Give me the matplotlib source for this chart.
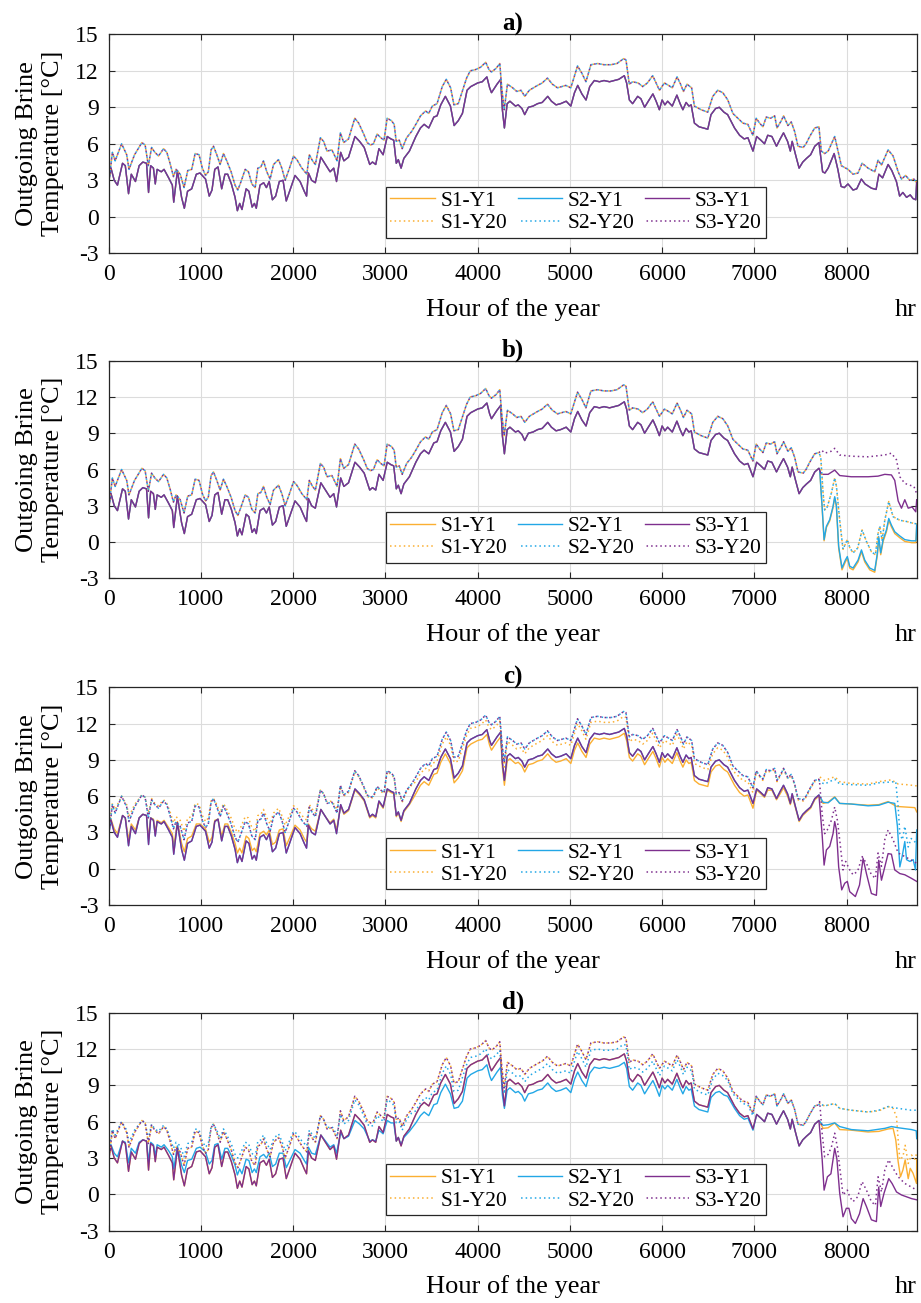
import numpy as np
import matplotlib
matplotlib.use("Agg")
import matplotlib.pyplot as plt

plt.rcParams['font.family'] = ['Liberation Serif', 'DejaVu Serif']
plt.rcParams['axes.unicode_minus'] = False

# ---------------- data ----------------
# Year-1 body, hours split into seasonal segments
Y1_H_W = [0,25,60,95,150,180,215,245,290,330, 370,410,432,455,485,505,525,570,600,650,
          690,705,745,790,820,855,900,950,990,1050, 1090,1120,1150,1185,1225,1260,1290,1330,1370,1395,
          1420,1445,1490,1520,1555,1580,1600,1640,1680,1710, 1740,1775,1810,1850,1890,1925,2020,2075,2120,2145,
          2165,2200,2240,2300,2350,2400,2440,2470]
Y1_W = [3.0,4.0,3.0,2.6,4.4,4.2,1.9,3.5,2.9,4.2, 4.5,4.4,2.0,4.2,4.0,2.7,3.9,3.7,3.9,3.2,
        2.6,1.2,3.8,1.6,0.7,2.1,2.3,3.5,3.6,3.1, 1.7,2.2,3.9,4.1,2.3,3.5,3.5,2.7,1.6,0.5,
        1.1,0.6,2.3,2.1,0.8,1.1,0.7,2.6,2.8,2.4, 2.9,1.4,1.7,2.9,3.0,1.3,3.4,2.9,2.1,1.7,
        3.6,3.0,2.8,4.9,4.3,3.7,4.0,2.9]
Y1_W_C = [3.3,4.1,3.3,2.9,4.4,4.2,2.4,3.7,3.2,4.2, 4.5,4.4,2.5,4.2,4.1,3.0,4.0,3.8,4.0,3.4,
          2.9,1.8,3.9,2.1,1.4,2.5,2.7,3.7,3.7,3.3, 2.2,2.6,4.0,4.1,2.7,3.7,3.7,3.0,2.1,1.3,
          1.7,1.3,2.7,2.5,1.5,1.7,1.4,2.9,3.1,2.8, 3.2,2.0,2.2,3.2,3.3,1.9,3.6,3.2,2.5,2.2,
          3.7,3.3,3.1,4.9,4.3,3.8,4.1,3.2]
Y1_W_D = [3.4,4.1,3.4,3.1,4.4,4.3,2.6,3.8,3.4,4.3, 4.5,4.4,2.7,4.3,4.1,3.2,4.1,3.9,4.1,3.6,
          3.1,2.1,4.0,2.4,1.8,2.8,2.9,3.8,3.9,3.5, 2.5,2.8,4.1,4.2,2.9,3.8,3.8,3.2,2.4,1.6,
          2.1,1.7,2.9,2.8,1.8,2.1,1.8,3.1,3.3,3.0, 3.4,2.3,2.5,3.4,3.4,2.2,3.7,3.4,2.8,2.5,
          3.9,3.4,3.3,4.9,4.4,3.9,4.1,3.4]

Y1_H_M = [2515,2550,2600,2670,2720,2770,2830,2860,2895,2930,2975,3020,3060,3090,3118,3140,3170,3200,3260]
Y1_M = [5.3,4.6,4.9,6.6,6.2,5.7,4.3,4.5,4.3,5.6,5.1,6.6,6.4,6.3,4.4,4.7,4.0,4.8,5.4]
Y1_M_C = [5.2,4.5,4.8,6.5,6.1,5.6,4.2,4.4,4.2,5.5,5.0,6.5,6.3,6.2,4.3,4.6,3.9,4.7,5.3]
Y1_M_D = [5.1,4.6,4.8,6.1,5.8,5.4,4.4,4.5,4.4,5.3,5.0,6.1,5.9,5.9,4.4,4.7,4.1,4.7,5.2]

Y1_H_S = [3330,3380,3420,3470,3525,3560,3600,3650, 3705,3745,3790,3835,3885,3925,4000,4050,4100,4130,4150,
          4210,4250,4268,4290,4320, 4350,4410,4440,4480,4510,4550,4600,4650,4700, 4760,4800,4850,4900,4960,5010,
          5050,5085,5130,5175,5215,5265,5320,5370, 5430,5480,5530,5590,5615,5645,5680,
          5735,5770,5810,5850,5900,5935,5970,6000,6030, 6060,6110,6160,6195,6225,6260,6290,6315,
          6350,6400,6495,6530,6580,6620,6670,6710, 6785,6840,6890,6930,6985]
Y1_S = [6.6,7.3,7.6,7.3,8.2,8.3,9.2,9.9, 9.1,7.5,7.9,8.5,10.4,10.7,11.0,11.1,11.5,10.6,10.2,
        10.9,11.3,8.8,7.3,9.3, 9.5,9.1,9.2,8.9,8.4,9.0,9.1,9.3,9.4, 9.9,9.5,9.2,9.3,9.5,9.1,
        10.2,10.8,10.1,9.6,10.7,11.2,11.1,11.2, 11.1,11.2,11.3,11.6,11.0,9.6,9.3,
        9.9,9.7,9.0,9.5,10.1,9.5,8.8,9.6,9.2, 9.5,9.1,10.0,9.3,8.8,9.4,9.1,9.2,
        7.7,7.4,7.2,8.4,8.9,9.0,8.6,8.4, 7.3,6.7,6.4,6.5,5.4]
Y1_S_C = [6.2,6.9,7.2,6.9,7.8,7.9,8.8,9.5, 8.7,7.1,7.5,8.1,10.0,10.3,10.6,10.7,11.1,10.2,9.8,
          10.5,10.9,8.4,6.9,8.9, 9.1,8.7,8.8,8.5,8.0,8.6,8.7,8.9,9.0, 9.5,9.1,8.8,8.9,9.1,8.7,
          9.8,10.4,9.7,9.2,10.3,10.8,10.7,10.8, 10.7,10.8,10.9,11.2,10.6,9.2,8.9,
          9.5,9.3,8.6,9.1,9.7,9.1,8.4,9.2,8.8, 9.1,8.7,9.6,8.9,8.4,9.0,8.7,8.8,
          7.3,7.0,6.8,8.0,8.5,8.6,8.2,8.0, 6.9,6.3,6.0,6.1,5.0]
Y1_S_D = [5.9,6.5,6.8,6.5,7.4,7.5,8.4,9.1, 8.3,7.1,7.2,7.7,9.6,9.9,10.2,10.3,10.7,9.8,9.4,
          10.1,10.5,8.2,7.1,8.6, 8.8,8.4,8.5,8.2,7.7,8.3,8.4,8.6,8.7, 9.2,8.8,8.5,8.6,8.8,8.4,
          9.5,10.1,9.4,8.9,10.0,10.5,10.4,10.5, 10.4,10.5,10.6,10.9,10.4,8.9,8.6,
          9.2,9.0,8.3,8.8,9.4,8.8,8.1,9.0,8.7, 9.0,8.6,9.5,8.8,8.3,8.9,8.6,8.7,
          7.3,7.0,6.8,8.0,8.4,8.5,8.2,8.1, 7.1,6.5,6.2,6.3,5.3]

Y1_H_L = [7025,7070,7110,7145,7190,7240,7280,7316,7360,7390,7410,7450,7485,7525,7565,7610,7655,7700]
Y1_L = [6.6,6.3,6.0,6.7,6.6,5.8,6.4,6.9,6.2,5.4,6.2,5.0,4.0,4.5,4.8,5.1,5.8,6.1]
Y1_L_C = [6.5,6.2,5.9,6.5,6.5,5.7,6.2,6.7,6.0,5.3,6.0,4.9,3.9,4.4,4.7,5.0,5.7,6.0]

# Year-20 body
Y20_H_W = [0,40,70,140,195,220,280,320,360, 395,430,465,500,540,595,630,
           665,702,730,775,817,857,900,937,980,1015, 1050,1080,1110,1136,1172,1208,1244,1280,1327,
           1370,1400,1430,1480,1515,1552,1588,1617,1650,1678, 1714,1750,1787,1841,1877,1913,1960,2004,2040,
           2094,2148,2175,2210,2241,2295,2330,2367,2420,2476]
Y20_W = [2.7,5.3,4.6,6.0,5.1,3.9,5.1,5.6,6.1, 5.9,4.2,5.7,5.3,5.0,5.6,5.3,
         4.4,3.3,3.9,3.5,2.4,3.8,3.9,5.2,5.1,4.0, 3.4,3.7,5.5,5.8,5.1,4.3,5.2,4.6,3.7,
         2.6,2.2,2.8,3.9,3.7,2.7,2.4,4.0,4.1,4.6, 3.7,3.1,4.3,4.7,4.0,3.0,4.0,5.0,4.7,
         4.0,3.5,5.1,4.6,4.3,6.5,6.2,5.4,5.5,4.6]
Y20_W_DAMP = [3.4,5.4,4.9,6.0,5.3,4.3,5.3,5.7,6.1, 5.9,4.6,5.8,5.4,5.2,5.7,5.4,
              4.7,3.8,4.3,4.0,3.1,4.2,4.3,5.4,5.3,4.4, 3.9,4.2,5.6,5.8,5.3,4.6,5.4,4.9,4.2,
              3.3,3.0,3.4,4.3,4.2,3.4,3.1,4.4,4.5,4.9, 4.2,3.7,4.6,5.0,4.4,3.6,4.4,5.2,5.0,
              4.4,4.0,5.3,4.9,4.6,6.5,6.2,5.5,5.6,4.9]

Y20_H_M = [2512,2548,2600,2668,2710,2765,2802,2838,2870,2910,2950,2985,3019,3066,3095,3117,3150,3182,3230,3283]
Y20_M = [6.9,6.1,6.4,8.1,7.7,6.8,6.1,5.9,6.0,6.8,6.5,6.3,8.1,7.9,7.6,6.2,6.3,5.6,6.5,7.0]
Y20_M_C = [6.8,6.0,6.3,8.0,7.6,6.7,6.0,5.8,5.9,6.7,6.4,6.2,8.0,7.8,7.5,6.1,6.2,5.5,6.4,6.9]
Y20_M_D = [6.6,5.8,6.1,7.8,7.4,6.5,5.8,5.6,5.7,6.5,6.2,6.0,7.8,7.6,7.3,5.9,6.0,5.3,6.2,6.7]

Y20_H_S = [3330,3381,3435,3470,3508,3560,3616,3660, 3707,3743,3790,3833,3880,3920,3978,4033,4087,4123,4150,
           4200,4240,4262,4288,4323, 4380,4424,4470,4511,4560,4649,4700,4757,
           4810,4866,4956,5010,5047,5083,5130,5174, 5228,5300,5370,5445,5510,5583,5608,5644,5680,
           5740,5789,5840,5898,5935,5971,6025, 6070,6110,6162,6200,6231,6270,6320,
           6350,6423,6495,6549,6603,6658,6712, 6767,6821,6875,6929,6984]
Y20_S = [7.6,8.3,8.7,8.5,9.1,9.3,10.7,11.3, 10.6,9.2,9.3,10.3,11.4,12.0,12.1,12.3,12.7,12.1,11.9,
         12.2,12.6,10.5,8.8,10.9, 10.6,10.3,10.4,9.9,10.4,10.8,11.0,11.4,
         10.9,10.6,10.8,10.6,11.5,12.4,11.8,11.1, 12.5,12.6,12.5,12.5,12.6,13.0,12.9,10.9,11.1,
         11.0,10.7,11.0,11.6,11.0,10.4,11.0, 10.8,10.6,11.5,10.9,10.3,10.9,10.6,
         9.1,8.8,8.6,9.9,10.4,10.2,9.6, 8.5,8.1,7.7,7.6,6.7]
Y20_S_C = [7.2,7.9,8.3,8.1,8.7,8.9,10.3,10.9, 10.2,8.8,8.9,9.9,11.0,11.6,11.7,11.9,12.3,11.7,11.5,
           11.8,12.2,10.1,8.4,10.5, 10.2,9.9,10.0,9.5,10.0,10.4,10.6,11.0,
           10.5,10.2,10.4,10.2,11.1,12.0,11.4,10.7, 12.1,12.2,12.1,12.1,12.2,12.6,12.5,10.5,10.7,
           10.6,10.3,10.6,11.2,10.6,10.0,10.6, 10.4,10.2,11.1,10.5,9.9,10.5,10.2,
           8.7,8.4,8.2,9.5,10.0,9.8,9.2, 8.1,7.7,7.3,7.2,6.3]
Y20_S_D = [6.9,7.6,8.0,7.8,8.4,8.6,10.0,10.6, 9.9,8.5,8.6,9.6,10.7,11.3,11.4,11.6,12.0,11.4,11.2,
           11.5,11.9,9.8,8.3,10.3, 10.0,9.7,9.8,9.3,9.8,10.2,10.4,10.8,
           10.3,10.0,10.2,10.0,10.9,11.8,11.2,10.5, 11.9,12.0,11.9,11.9,12.0,12.4,12.3,10.3,10.5,
           10.4,10.1,10.4,11.0,10.4,9.8,10.6, 10.4,10.2,11.1,10.5,9.9,10.5,10.2,
           8.7,8.4,8.2,9.5,10.0,9.8,9.4, 8.3,7.9,7.5,7.4,6.5]

Y20_H_L = [7020,7057,7093,7129,7175,7220,7245,7292,7317,7364,7400,7437,7473,7530,7560,7600,7654,7700]
Y20_L = [8.1,7.7,7.4,8.2,8.1,8.3,7.3,7.9,8.3,7.5,7.8,7.0,5.8,5.7,6.0,6.6,7.3,7.4]
Y20_L_C = [8.0,7.6,7.3,8.1,8.0,8.2,7.2,7.8,8.2,7.4,7.7,6.9,5.7,5.6,5.9,6.5,7.2,7.3]

# End-of-year segments (after hour 7700), per panel / series
TAIL_A_Y1_H = [7740,7765,7800,7865,7905,7940,7975,8015,8070,8110,8160,8200,8270,8320,8350,8390,8450,8490,8540,8575,8610,8650,8690,8720,8750,8760]
TAIL_A_Y1 = [3.7,3.6,4.0,5.2,3.9,2.5,2.4,2.7,2.2,2.3,3.1,2.7,2.35,2.25,3.5,3.2,4.3,3.8,2.9,1.7,2.0,1.6,1.8,1.5,1.4,2.9]
TAIL_A_Y20_H = [7726,7762,7800,7871,7907,7943,8015,8070,8124,8168,8233,8305,8341,8378,8450,8504,8559,8595,8640,8684,8730,8760]
TAIL_A_Y20 = [5.4,5.2,5.4,6.6,5.4,4.2,3.9,3.5,3.6,4.4,4.0,3.7,4.65,4.25,5.5,5.0,3.7,3.1,3.4,3.0,3.1,2.8]

TAIL_B_S12_Y1_H = [7708,7734,7756,7781,7817,7853,7871,7889,7914,7950,7986,8008,8034,8070,8124,8161,8197,8251,8305,8334,8348,8370,8396,8432,8457,8486,8522,8577,8631,8704,8752,8760]
TAIL_B_S2_Y1 = [6.0,3.0,0.2,1.3,1.85,2.95,3.75,3.05,-0.35,-2.15,-1.5,-1.2,-2.0,-2.15,-1.5,-0.65,-1.5,-2.15,-2.35,-0.9,0.45,-0.9,0.2,1.0,1.95,1.4,0.85,0.5,0.2,0.1,0.1,1.5]
TAIL_B_S1_Y1 = [6.0,2.9,0.1,1.2,1.75,2.85,3.65,2.95,-0.5,-2.3,-1.65,-1.35,-2.15,-2.3,-1.65,-0.8,-1.65,-2.3,-2.5,-1.05,0.3,-1.05,0.05,0.85,1.8,1.25,0.7,0.35,0.05,-0.05,-0.05,1.3]
TAIL_B_S3_Y1_H = [7726,7800,7871,7925,8050,8233,8340,8414,8486,8522,8559,8595,8631,8668,8710,8750,8760]
TAIL_B_S3_Y1 = [5.6,5.6,5.95,5.5,5.4,5.4,5.45,5.6,5.55,5.1,3.4,2.8,3.5,2.8,2.9,2.5,3.5]
TAIL_B_S12_Y20_H = [7720,7745,7762,7790,7835,7871,7890,7925,7961,8008,8034,8070,8120,8168,8215,8269,8312,8341,8360,8385,8414,8457,8504,8577,8650,8722,8760]
TAIL_B_S12_Y20 = [7.0,4.05,2.65,2.9,4.05,5.3,4.6,1.8,-0.6,0.2,-0.45,-0.9,-0.5,1.0,0.05,-0.8,-1.05,0.7,1.3,0.15,1.8,3.35,2.1,1.8,1.7,1.55,1.5]
TAIL_B_S3_Y20_H = [7730,7762,7830,7871,7925,8050,8233,8414,8486,8541,8577,8631,8686,8730,8760]
TAIL_B_S3_Y20 = [7.6,7.35,7.5,7.75,7.2,7.1,7.05,7.2,7.35,6.8,5.4,4.85,4.7,4.6,4.0]

TAIL_C_S1_Y1_H = [7745,7800,7871,7925,8050,8150,8233,8350,8450,8541,8650,8740,8760]
TAIL_C_S1_Y1 = [5.4,5.5,5.95,5.4,5.35,5.3,5.25,5.3,5.55,5.15,5.1,5.05,4.7]
TAIL_C_S2_Y1_H = [7745,7800,7871,7925,8050,8233,8350,8450,8522,8551,8577,8602,8631,8650,8686,8722,8747,8760]
TAIL_C_S2_Y1 = [5.5,5.45,5.9,5.4,5.35,5.2,5.25,5.5,5.4,3.5,0.15,1.0,2.25,0.75,0.6,0.75,-0.1,3.2]
TAIL_C_S3_Y1_H = [7734,7756,7781,7817,7853,7871,7890,7914,7947,7980,8008,8034,8095,8140,8179,8215,8269,8323,8348,8378,8414,8450,8486,8522,8577,8631,8704,8760]
TAIL_C_S3_Y1 = [2.9,0.3,1.55,1.85,2.9,3.9,3.2,0.15,-1.75,-1.2,-1.05,-1.9,-2.3,-1.35,0.85,-0.4,-2.05,-2.2,0.7,-0.95,0.15,1.25,1.2,-0.1,-0.4,-0.5,-0.8,-1.05]
TAIL_C_S1_Y20_H = [7708,7760,7871,7925,8050,8233,8350,8486,8560,8650,8760]
TAIL_C_S1_Y20 = [7.6,7.3,7.6,7.2,7.05,7.0,7.2,7.35,7.0,6.95,6.85]
TAIL_C_S2_Y20_H = [7708,7760,7871,7925,8050,8233,8350,8533,8559,8577,8605,8631,8668,8700,8758]
TAIL_C_S2_Y20 = [7.2,7.0,7.4,7.0,6.95,6.9,7.1,7.2,5.1,2.9,2.4,3.5,1.8,2.5,2.1]
TAIL_C_S3_Y20_H = [7708,7734,7762,7790,7835,7871,7900,7925,7961,7990,8034,8070,8120,8168,8215,8269,8312,8341,8378,8414,8450,8504,8559,8631,8704,8760]
TAIL_C_S3_Y20 = [7.05,4.6,2.9,3.2,4.0,5.1,4.0,2.4,-0.1,0.6,-0.1,-0.5,-0.2,1.0,0.45,-0.5,-0.8,1.3,0.2,2.4,3.2,2.4,1.3,1.0,0.7,0.45]

TAIL_D_S1_Y1_H = [7745,7800,7871,7925,8052,8233,8350,8450,8504,8533,8559,8584,8610,8635,8668,8690,8720,8758,8760]
TAIL_D_S1_Y1 = [5.45,5.5,5.9,5.35,5.3,5.15,5.2,5.4,5.45,4.5,2.7,1.45,2.0,2.85,1.3,2.15,1.75,0.9,2.85]
TAIL_D_S2_Y1_H = [7745,7800,7871,7925,8052,8233,8414,8486,8560,8704,8755,8760]
TAIL_D_S2_Y1 = [5.7,5.75,5.9,5.6,5.35,5.25,5.45,5.6,5.5,5.35,5.25,4.6]
TAIL_D_S3_Y1_H = [7735,7756,7792,7830,7871,7895,7925,7961,7997,8025,8052,8095,8140,8179,8215,8269,8323,8348,8370,8406,8457,8493,8541,8595,8650,8704,8760]
TAIL_D_S3_Y1 = [2.9,0.35,1.45,1.7,3.8,2.9,0.1,-1.85,-1.15,-1.15,-2.0,-2.4,-1.6,-0.35,-1.0,-2.1,-2.25,0.6,-1.0,0.1,1.3,0.9,0.2,-0.05,-0.2,-0.35,-0.45]
TAIL_D_S1_Y20_H = [7708,7760,7871,7925,8050,8233,8350,8450,8504,8541,8559,8577,8610,8635,8668,8704,8740,8760]
TAIL_D_S1_Y20 = [7.5,7.3,7.5,7.1,6.95,6.8,6.9,7.25,7.1,6.4,4.5,2.85,3.1,4.05,2.55,3.25,2.9,3.4]
TAIL_D_S2_Y20_H = [7708,7760,7871,7925,8050,8233,8350,8450,8560,8700,8760]
TAIL_D_S2_Y20 = [7.5,7.3,7.5,7.1,6.95,6.8,6.95,7.25,7.1,6.95,6.95]
TAIL_D_S3_Y20_H = [7708,7735,7762,7800,7835,7871,7900,7925,7961,8008,8034,8070,8120,8168,8215,8269,8312,8341,8378,8414,8457,8504,8559,8631,8704,8760]
TAIL_D_S3_Y20 = [7.65,5.05,3.1,3.3,3.9,5.05,3.9,2.3,-0.05,0.35,-0.2,-0.6,-0.2,1.05,0.35,-0.6,-0.9,1.45,0.2,2.0,2.85,2.15,1.45,0.9,0.6,0.35]

LABELS = ['S1-Y1', 'S2-Y1', 'S3-Y1', 'S1-Y20', 'S2-Y20', 'S3-Y20']
PANEL_TITLES = ['a)', 'b)', 'c)', 'd)']
Y_TICKS = [-3, 0, 3, 6, 9, 12, 15]
X_TICKS = [0, 1000, 2000, 3000, 4000, 5000, 6000, 7000, 8000]

# ---------------- assemble series ----------------
def series(hsegs, vsegs):
    h, v = [], []
    for hs, vs in zip(hsegs, vsegs, strict=True):
        assert len(hs) == len(vs), (len(hs), len(vs), hs[:3])
        h += list(hs)
        v += list(vs)
    return np.array(h, float), np.array(v, float)

Y1H = [Y1_H_W, Y1_H_M, Y1_H_S, Y1_H_L]
Y1B = [Y1_W, Y1_M, Y1_S, Y1_L]
Y1C = [Y1_W_C, Y1_M_C, Y1_S_C, Y1_L_C]
Y1D = [Y1_W_D, Y1_M_D, Y1_S_D, Y1_L]
Y20H = [Y20_H_W, Y20_H_M, Y20_H_S, Y20_H_L]
Y20B = [Y20_W, Y20_M, Y20_S, Y20_L]
Y20C = [Y20_W_DAMP, Y20_M_C, Y20_S_C, Y20_L_C]
Y20D = [Y20_W_DAMP, Y20_M_D, Y20_S_D, Y20_L]

def s(bh, bv, th, tv):
    return series(bh + [th], bv + [tv])

panels = [
    {  # a
        'S1-Y1': s(Y1H, Y1B, TAIL_A_Y1_H, TAIL_A_Y1),
        'S2-Y1': s(Y1H, Y1B, TAIL_A_Y1_H, TAIL_A_Y1),
        'S3-Y1': s(Y1H, Y1B, TAIL_A_Y1_H, TAIL_A_Y1),
        'S1-Y20': s(Y20H, Y20B, TAIL_A_Y20_H, TAIL_A_Y20),
        'S2-Y20': s(Y20H, Y20B, TAIL_A_Y20_H, TAIL_A_Y20),
        'S3-Y20': s(Y20H, Y20B, TAIL_A_Y20_H, TAIL_A_Y20),
    },
    {  # b
        'S1-Y1': s(Y1H, Y1B, TAIL_B_S12_Y1_H, TAIL_B_S1_Y1),
        'S2-Y1': s(Y1H, Y1B, TAIL_B_S12_Y1_H, TAIL_B_S2_Y1),
        'S3-Y1': s(Y1H, Y1B, TAIL_B_S3_Y1_H, TAIL_B_S3_Y1),
        'S1-Y20': s(Y20H, Y20B, TAIL_B_S12_Y20_H, TAIL_B_S12_Y20),
        'S2-Y20': s(Y20H, Y20B, TAIL_B_S12_Y20_H, TAIL_B_S12_Y20),
        'S3-Y20': s(Y20H, Y20B, TAIL_B_S3_Y20_H, TAIL_B_S3_Y20),
    },
    {  # c
        'S1-Y1': s(Y1H, Y1C, TAIL_C_S1_Y1_H, TAIL_C_S1_Y1),
        'S2-Y1': s(Y1H, Y1B, TAIL_C_S2_Y1_H, TAIL_C_S2_Y1),
        'S3-Y1': s(Y1H, Y1B, TAIL_C_S3_Y1_H, TAIL_C_S3_Y1),
        'S1-Y20': s(Y20H, Y20C, TAIL_C_S1_Y20_H, TAIL_C_S1_Y20),
        'S2-Y20': s(Y20H, Y20B, TAIL_C_S2_Y20_H, TAIL_C_S2_Y20),
        'S3-Y20': s(Y20H, Y20B, TAIL_C_S3_Y20_H, TAIL_C_S3_Y20),
    },
    {  # d
        'S1-Y1': s(Y1H, Y1B, TAIL_D_S1_Y1_H, TAIL_D_S1_Y1),
        'S2-Y1': s(Y1H, Y1D, TAIL_D_S2_Y1_H, TAIL_D_S2_Y1),
        'S3-Y1': s(Y1H, Y1B, TAIL_D_S3_Y1_H, TAIL_D_S3_Y1),
        'S1-Y20': s(Y20H, Y20B, TAIL_D_S1_Y20_H, TAIL_D_S1_Y20),
        'S2-Y20': s(Y20H, Y20D, TAIL_D_S2_Y20_H, TAIL_D_S2_Y20),
        'S3-Y20': s(Y20H, Y20B, TAIL_D_S3_Y20_H, TAIL_D_S3_Y20),
    },
]

# ---------------- styling ----------------
COLORS = {'S1': '#FBAF32', 'S2': '#22A7E6', 'S3': '#7E2F8E'}
DOT_OFFSET = {'S1': 0.0, 'S2': 1.0, 'S3': 2.0}
EDGE = '#262626'

W, H = 921, 1303
fig = plt.figure(figsize=(W / 100, H / 100), dpi=100)

# axes boxes in pixels (top, bottom)
boxes = [(34.3, 253.3), (360.7, 578.3), (687.3, 905.0), (1012.7, 1230.7)]
left_px, right_px = 108.7, 916.7

for i, (top, bot) in enumerate(boxes):
    ax = fig.add_axes([left_px / W, 1 - bot / H, (right_px - left_px) / W, (bot - top) / H])
    data = panels[i]
    handles = {}
    for lab in LABELS:
        sname, yname = lab.split('-')
        x, y = data[lab]
        if yname == 'Y1':
            ln, = ax.plot(x, y, color=COLORS[sname], lw=1.0, solid_joinstyle='round')
        else:
            ln, = ax.plot(x, y, color=COLORS[sname], lw=1.1,
                          linestyle=(DOT_OFFSET[sname], (1.0, 2.0)), dash_capstyle='butt')
        handles[lab] = ln

    ax.set_xlim(0, 8760)
    ax.set_ylim(-3, 15)
    ax.set_xticks(X_TICKS)
    ax.set_yticks(Y_TICKS)
    ax.grid(True, color='#DCDCDC', lw=0.8)
    ax.set_axisbelow(True)
    for sp in ax.spines.values():
        sp.set_color(EDGE)
        sp.set_linewidth(0.9)
    ax.tick_params(axis='both', direction='in', top=True, right=True, length=4,
                   width=0.8, color=EDGE, labelsize=17, labelcolor='black')
    ax.tick_params(axis='x', pad=8)
    ax.tick_params(axis='y', pad=7)

    ax.set_title(PANEL_TITLES[i], fontsize=18, fontweight='bold', pad=3)

    ax_h = bot - top
    ylab = -62.7 / ax_h
    ax.text(0.5, ylab, 'Hour of the year', transform=ax.transAxes,
            ha='center', va='baseline', fontsize=19)
    ax.text(1.0, ylab, 'hr', transform=ax.transAxes,
            ha='right', va='baseline', fontsize=19)

    fig.text(40 / W, 1 - ((top + bot) / 2) / H, 'Outgoing Brine\nTemperature [°C]',
             rotation=90, ha='center', va='center', fontsize=19, linespacing=1.2,
             multialignment='center')

    order = ['S1-Y1', 'S1-Y20', 'S2-Y1', 'S2-Y20', 'S3-Y1', 'S3-Y20']
    leg = ax.legend([handles[k] for k in order], order, ncol=3, loc='lower right',
                    bbox_to_anchor=((766 - left_px) / (right_px - left_px), 0.072),
                    fontsize=15.5, frameon=True, fancybox=False, framealpha=1,
                    edgecolor=EDGE, borderpad=0.2, labelspacing=0.1, handlelength=2.05,
                    handletextpad=0.26, columnspacing=0.5, borderaxespad=0)
    leg.get_frame().set_linewidth(0.9)

fig.savefig('out.png', dpi=100)
